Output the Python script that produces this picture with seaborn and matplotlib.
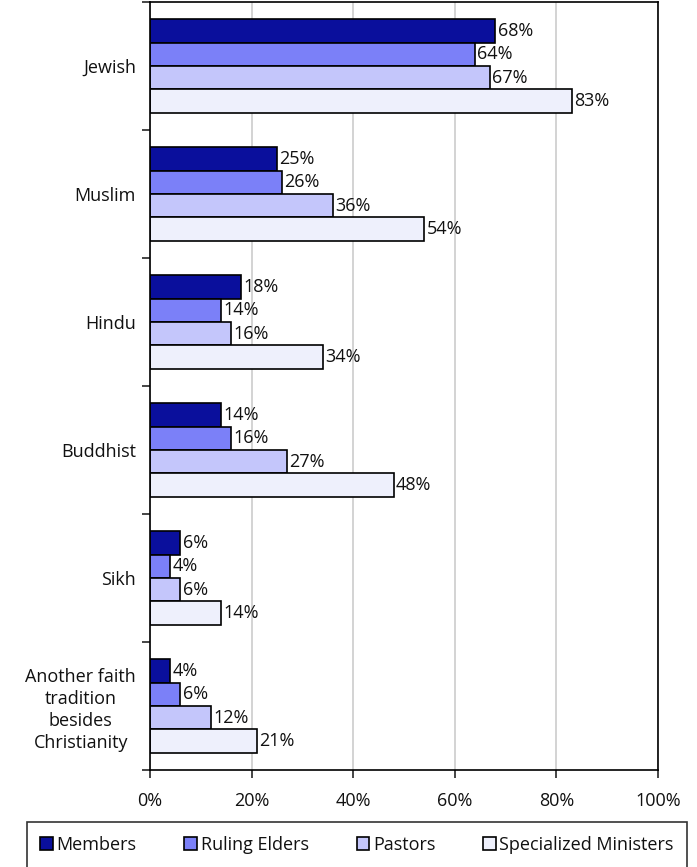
import matplotlib
matplotlib.use("Agg")
import matplotlib.pyplot as plt
import seaborn as sns
import pandas as pd
import numpy as np
from matplotlib.ticker import FixedLocator, PercentFormatter
from matplotlib.patches import Patch

categories = ["Jewish", "Muslim", "Hindu", "Buddhist", "Sikh",
              "Another faith\ntradition\nbesides\nChristianity"]
groups = ["Members", "Ruling Elders", "Pastors", "Specialized Ministers"]
members = [68, 25, 18, 14, 6, 4]
ruling_elders = [64, 26, 14, 16, 4, 6]
pastors = [67, 36, 16, 27, 6, 12]
specialized = [83, 54, 34, 48, 14, 21]
colors = ["#0A0F9C", "#7B80F8", "#C4C6FB", "#EEF0FC"]

rows = []
for g, vals in zip(groups, [members, ruling_elders, pastors, specialized]):
    for c, v in zip(categories, vals):
        rows.append({"category": c, "group": g, "value": v})
df = pd.DataFrame(rows)

sns.set_style("white")
plt.rcParams['font.family'] = ['Open Sans', 'DejaVu Sans']
FS = 13

fig = plt.figure(figsize=(6.97, 8.67), dpi=100)
ax = fig.add_axes([150/697, 1-770/867, (658-150)/697, (770-2)/867])

sns.barplot(data=df, y="category", x="value", hue="group", order=categories,
            hue_order=groups, palette=colors, saturation=1, orient="h", width=0.73,
            edgecolor="black", linewidth=1.2, ax=ax, legend=False)

for cont in ax.containers:
    ax.bar_label(cont, labels=[f"{int(v)}%" for v in cont.datavalues],
                 padding=1.5, fontsize=FS, color="#111111")

ax.set_xlim(0, 100)
ax.set_ylim(len(categories) - 0.5, -0.5)
ax.set_xticks([0, 20, 40, 60, 80, 100])
ax.xaxis.set_major_formatter(PercentFormatter(decimals=0))
ax.grid(axis="x", color="#D0D0D0", linewidth=1.3)
ax.set_axisbelow(True)
ax.set_xlabel("")
ax.set_ylabel("")
for s in ax.spines.values():
    s.set_visible(True)
    s.set_color("black")
    s.set_linewidth(1.2)
ax.tick_params(axis="x", which="major", direction="out", length=6, width=1.2,
               labelsize=FS, pad=10, bottom=True, labelcolor="#111111")
ax.tick_params(axis="y", which="major", length=0, labelsize=FS, pad=10,
               labelcolor="#111111")
ax.yaxis.set_minor_locator(FixedLocator(np.arange(-0.5, len(categories), 1.0)))
ax.tick_params(axis="y", which="minor", direction="out", length=6, width=1.2, left=True)
for lbl in ax.get_yticklabels():
    lbl.set_multialignment("center")
    lbl.set_linespacing(1.3)

handles = [Patch(facecolor=c, edgecolor="black", linewidth=1.2, label=g)
           for c, g in zip(colors, groups)]
leg = fig.legend(handles=handles, loc="center", bbox_to_anchor=(357/697, 1-845/867),
                 ncol=4, frameon=True, fancybox=False, edgecolor="black",
                 fontsize=FS, handlelength=0.7, handleheight=0.7, handletextpad=0.2,
                 columnspacing=2.65, borderpad=0.75, borderaxespad=0)
leg.get_frame().set_linewidth(1.2)
for t in leg.get_texts():
    t.set_color("#111111")

fig.savefig("out.png", dpi=100)
